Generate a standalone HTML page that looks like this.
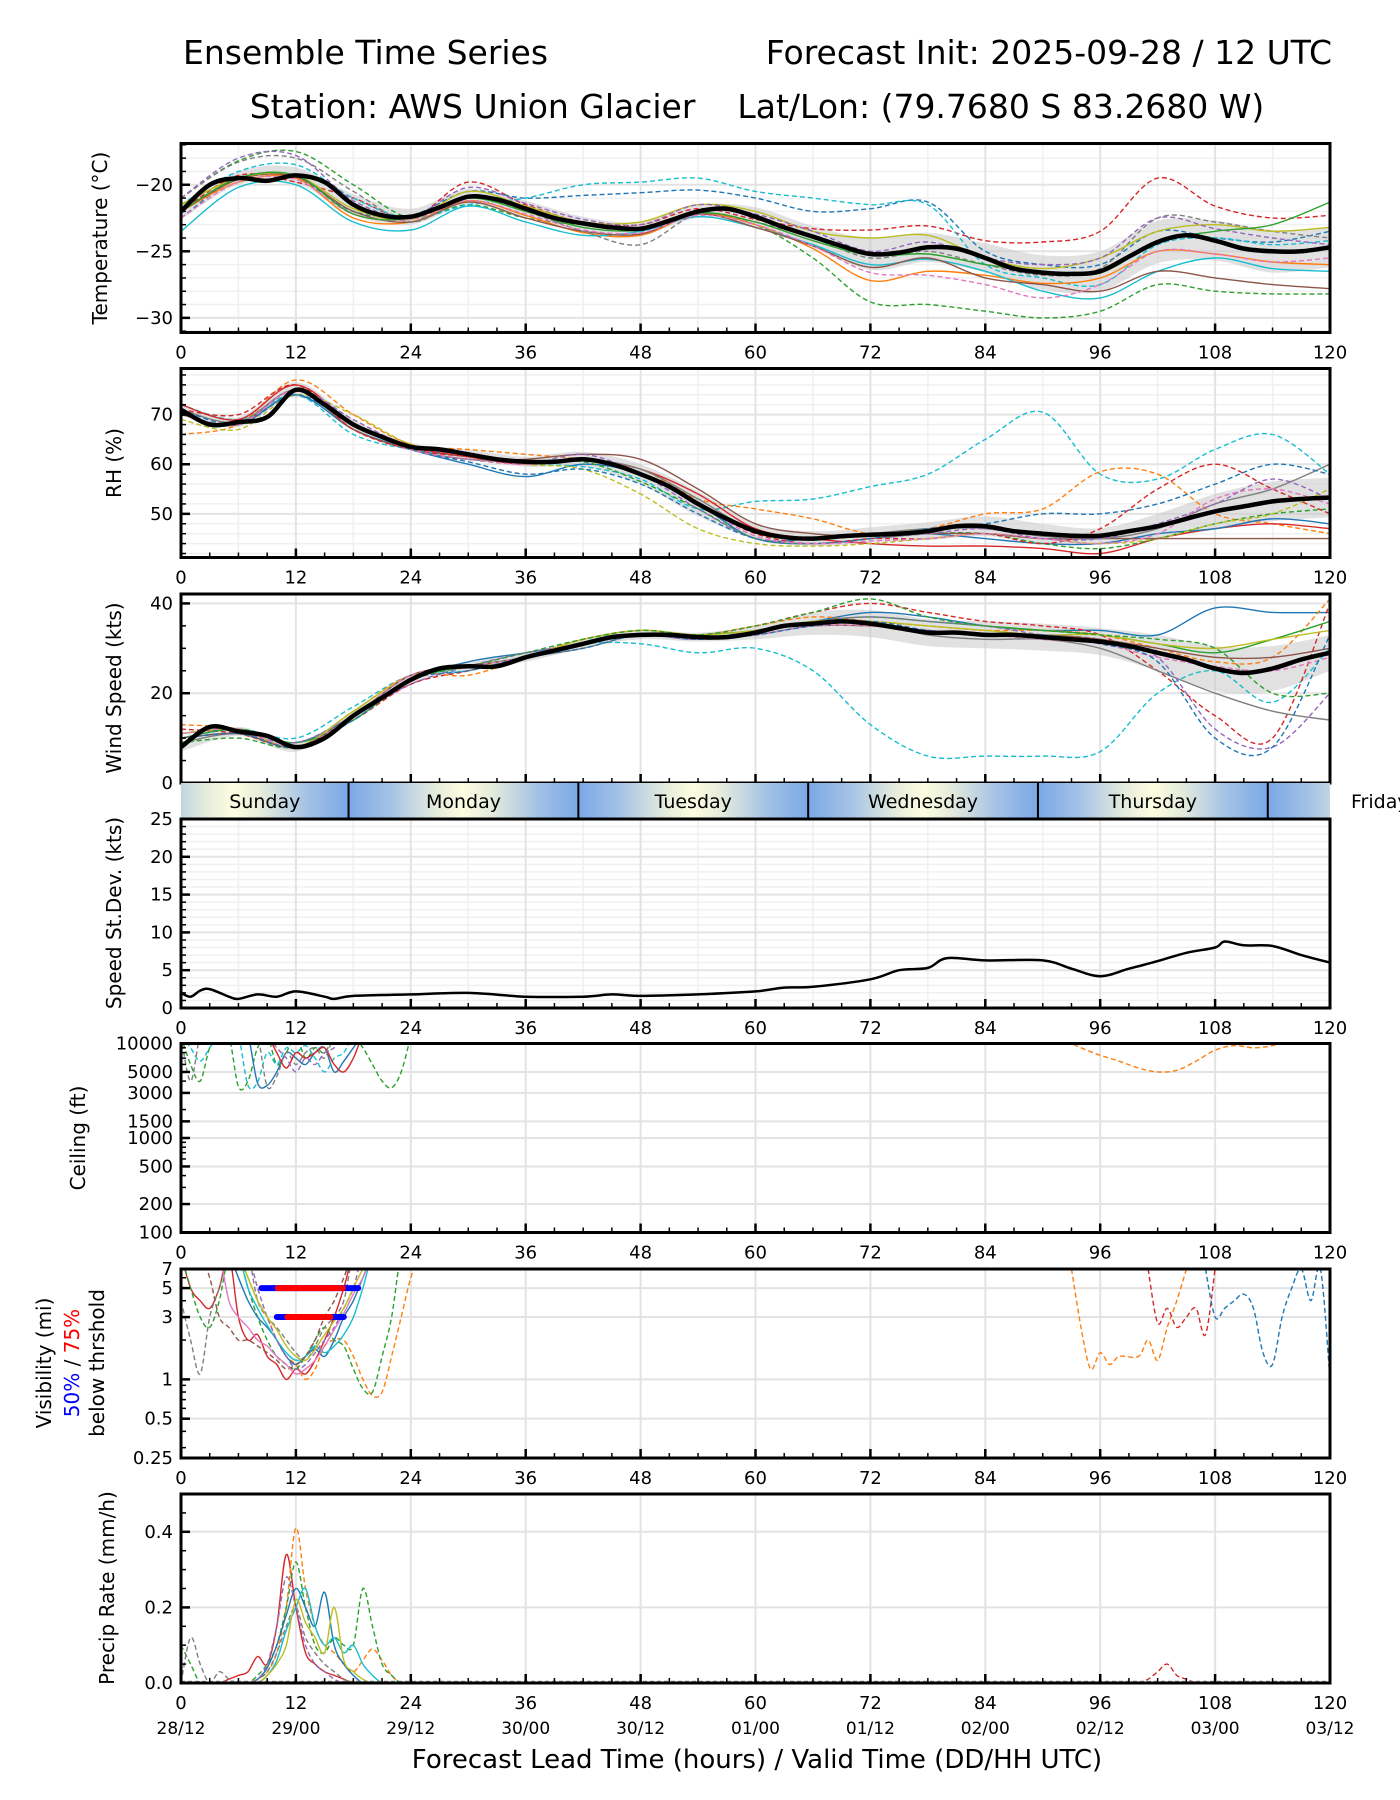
<!DOCTYPE html>
<html><head><meta charset="utf-8"><title>Ensemble Time Series</title>
<style>
html,body{margin:0;padding:0;background:#fff;}
svg{display:block;font-family:"DejaVu Sans","Liberation Sans",sans-serif;}
</style></head>
<body>
<svg id="chart" width="1400" height="1800" viewBox="0 0 1400 1800" xmlns="http://www.w3.org/2000/svg">
<text x="183" y="64" font-size="33">Ensemble Time Series</text>
<text x="1332" y="64" font-size="33" text-anchor="end">Forecast Init: 2025-09-28 / 12 UTC</text>
<text x="757" y="118" font-size="33" text-anchor="middle" xml:space="preserve">Station: AWS Union Glacier    Lat/Lon: (79.7680 S 83.2680 W)</text>
<text x="757" y="1768" font-size="26" text-anchor="middle">Forecast Lead Time (hours) / Valid Time (DD/HH UTC)</text>
</svg>
<script>
// ---------- DATA ----------
const COLORS = ["#1f77b4","#ff7f0e","#2ca02c","#d62728","#9467bd","#8c564b","#e377c2","#7f7f7f","#bcbd22","#17becf"];
const hours6 = [0,6,12,18,24,30,36,42,48,54,60,66,72,78,84,90,96,102,108,114,120];
const hours3 = [0,3,6,9,12,15,18,21,24,27,30,33,36,39,42,45,48,51,54,57,60,63,66,69,72,75,78,81,84,87,90,93,96,99,102,105,108,111,114,117,120];
const xTicks = [0,12,24,36,48,60,72,84,96,108,120];
const validLabels = ["28/12","29/00","29/12","30/00","30/12","01/00","01/12","02/00","02/12","03/00","03/12"];
const dayNames = ["Sunday","Monday","Tuesday","Wednesday","Thursday","Friday"];
const dayStartHour = -6.5;

// Temperature
const tempMean = [-22,-20,-19.5,-19.7,-19.3,-19.8,-21.5,-22.3,-22.4,-21.7,-20.9,-21.1,-21.8,-22.5,-22.9,-23.2,-23.3,-22.7,-22.0,-21.8,-22.4,-23.2,-23.9,-24.6,-25.2,-25.1,-24.7,-24.8,-25.5,-26.3,-26.6,-26.7,-26.5,-25.4,-24.3,-23.8,-24.2,-24.8,-25.0,-25.0,-24.7];
const tempSpread = [0.6,0.5,0.6,0.8,0.6,0.6,0.6,0.5,0.5,0.5,0.7,0.8,1.2,1.1,1.1,1.3,1.5,1.6,1.5,1.6,1.5];
const tempMembers = [
 [-22,-19.3,-19.8,-21,-22.5,-19.8,-21.5,-22.8,-23,-21.8,-22.6,-23.3,-23.4,-23.1,-24.2,-24.3,-23.5,-19.5,-21.6,-22.5,-22.3],
 [-22.5,-19.5,-19.5,-22,-22.3,-20.5,-21,-20.8,-20.6,-20.4,-21,-22,-21.8,-21.3,-25,-26,-26,-23.5,-24,-24.3,-23.5],
 [-21,-18.2,-17.5,-20,-22.5,-21.5,-22.5,-23,-23.2,-22.2,-23,-25.5,-28.8,-29,-29.5,-30,-29.5,-27.5,-28,-28.2,-28.2],
 [-21.5,-19,-18.5,-21,-22.5,-21.5,-21,-20,-19.8,-19.5,-20.5,-21,-21.5,-21.5,-26,-27,-27.5,-24.5,-24,-24.5,-24.2],
 [-22,-19.8,-19.5,-22.5,-22.8,-21.2,-22.3,-23.6,-23.8,-22.2,-23,-24.8,-27.2,-26.5,-26.8,-27.4,-27,-25,-25.2,-25.8,-26],
 [-23.5,-20.2,-20,-22.8,-23.4,-21.6,-22.8,-23.8,-23.5,-22.4,-23.2,-24.5,-26,-25.6,-26.5,-28,-28.5,-26.5,-25.5,-26.3,-26.5],
 [-22,-19.6,-19.4,-22,-22.8,-21.3,-22.5,-23.5,-23.7,-22.2,-23.2,-24.6,-26.2,-25.5,-27,-27.5,-28,-26.5,-27,-27.5,-27.8],
 [-21,-18.3,-18,-20.5,-22.8,-21,-22,-23.5,-24.5,-22.2,-22.8,-24,-25.5,-25,-26,-26.8,-26.3,-22.5,-22.8,-23.5,-24],
 [-21.5,-19.5,-19.3,-21.8,-22.6,-20.5,-21.6,-22.8,-22.8,-21.5,-22,-23.5,-24,-23.8,-25.5,-26.3,-25.5,-23.5,-23,-23.5,-23.2],
 [-21,-18,-17.8,-21.2,-22.4,-20.2,-21.4,-22.6,-23,-21.5,-22.2,-23.5,-25,-24.3,-25.5,-26,-25.5,-22.5,-23.3,-24,-24.5],
 [-22.5,-19.8,-19.6,-22.2,-22.6,-21.2,-22.2,-23.4,-23.6,-22.3,-23,-24.6,-26.6,-26.8,-27.5,-28.5,-27.5,-25,-25.2,-25.8,-25.5],
 [-22,-19.5,-19.3,-22.2,-22.5,-21,-22,-23.2,-23.4,-22.1,-22.8,-24.2,-25.3,-25.2,-26,-26.5,-26.6,-24.3,-23.5,-23,-21.3]
];
const tempColors = [3,0,2,9,1,9,5,7,8,4,6,2];
const tempDashed = [1,1,1,1,0,0,0,1,0,1,1,0];

// RH
const rhMean = [71,68,68.5,69.5,75,72,68,65.5,63.5,63,62,61,60.5,60.5,61,60,58,55.5,52,49,46.5,45.3,45,45.5,45.8,46,46.5,47.5,47.5,46.5,46,45.6,45.6,46.5,47.5,49,50.5,51.5,52.5,53,53.3];
const rhSpread = [1,1,1.5,1,0.8,1,1,1.5,2,2.5,1.5,1.5,1.5,1.8,2,2,1.5,2.5,3.5,4,4];
const rhMembers = [
 [72,69,74,66,63,61.5,60,59.5,57,51,52.5,53,55.5,58,65,70.5,58,57,63,66,58],
 [66,68,77,70,64,63,62,61,59,53,51,49,46,47,50,51,58.5,58,50,48,46],
 [72,69,76,68,63.5,61.5,60,61,59,54,47,45,44,43.5,43.5,43,42,45,47,48,47],
 [70,68,74,67,63,60,57.5,60,58,52,45,45,46,46,45,44,44,46,47,49,48],
 [70,68,75,68,63,61,60,60.5,56.5,51,45,44,45,46,46,44,43,45,48,50,51],
 [69,67,74,70,64,62,60,59,54,47,44,43.5,44,45,46,45,44,45,48,50,55],
 [70,68,75,67,63,61,61,62,61,55,48,46,45.5,46,46,45,45,45,45,45,45],
 [71,68.5,75,68,63,61,60.5,61,59,53,46.5,45,46,47,47,45.5,45,47,52,55,60],
 [70,68,75,69,63.5,62,60,62,58,51,45,44,45,46,47,45,45,48,52,57,53],
 [71,70,76,67,63,61.5,60,61,58,52,46,44,45,45,46,44,47,55,60,55,50],
 [71,68,74,68,63,60.5,58,59,56,50,45,44,45,47,48,50,50,52,56,60,58],
 [70,68,75,68,63,61,60,61,58,52,45.5,44,44.5,45,46,45,44,46,53,55,52]
];
const rhColors = [9,1,3,0,2,8,5,7,4,3,0,6];
const rhDashed = [1,1,0,0,1,1,0,0,1,1,1,1];

// Wind speed
const windMean = [8,12.5,11.5,10.5,8,10,15,19,23,25.5,26,26,28,29.5,31,32.5,33,33,32.5,32.5,33.5,35,35.5,36,35.5,34.5,33.5,33.5,33,33,32.5,32,31.5,30.5,29,27.5,25.5,24.5,25.5,27.5,29];
const windSpread = [1,1,1,1,1,1,1,1,1,1,1.5,2.5,3,3,3,3,3,4,5,5,4];
const windMembers = [
 [10,12,10,17,24,25,28,31,31,29,30,25,13,6,6,6,7,20,25,18,30],
 [11,12,9,15,23,27,29,31,33,32,34,36,38,37,35,34,34,33,39,38,38],
 [12,11,8,14,22,25,28,32,34,33,35,38,40,38,36,35,33,25,15,10,40],
 [9,11,8,15,24,26,28,30,33,32,34,36,36,33,32,32,30,25,20,16,14],
 [13,12,8,16,24,24,28,32,34,33,35,37,36,35,34,34,33,30,27,28,41],
 [10,12,9,14,23,26,28,31,33,33,34,36,37,36,35,34,33,31,29,32,36],
 [10,11,9,15,22,26,29,31,33,32,34,36,37,36,35,33,32,28,12,8,20],
 [11,12,8,16,24,26,28,32,34,33,34,36,36,35,34,33,33,31,30,32,34],
 [9,10,8,15,23,26,29,32,34,33,35,38,41,37,35,34,33,32,30,20,20],
 [10,11,8,15,24,26,28,31,33,32,33,35,35,34,33,33,32,30,28,28,30],
 [11,12,8,15,24,26,28,31,33,32,33,35,35,34,33,32,31,28,26,25,28],
 [10,11,8,14,23,25,28,30,33,32,33,35,36,34,33,33,31,27,10,8,33]
];
const windColors = [9,0,3,7,1,2,4,8,2,5,6,0];
const windDashed = [1,0,1,0,1,0,1,0,1,0,1,1];

// Speed std dev
const sdHours = [0,1,2,3,5,6,8,10,12,15,16,18,24,30,36,42,45,48,54,60,63,66,72,75,78,80,84,90,93,96,99,102,105,108,109,111,114,117,120];
const sdValues = [2,1.5,2.3,2.5,1.5,1.2,1.8,1.5,2.2,1.5,1.2,1.6,1.8,2,1.5,1.5,1.8,1.6,1.8,2.2,2.7,2.8,3.8,5,5.3,6.6,6.3,6.3,5.2,4.2,5.2,6.2,7.3,8,8.8,8.3,8.2,7,6];

// Ceiling (ft), 12000 = above plotted range
const ceilHoursA = [0,1,2,3,4,5,6,7,8,9,10,11,12,13,14,15,16,17,18,19,20,21,22,23,24];
const ceilMembers = [
 [12000,6000,4000,9000,12000,12000,3500,4000,9000,12000,6000,8000,12000,7000,9000,8000,12000,12000,12000,9000,6000,4000,3400,5000,12000],
 [12000,12000,12000,12000,12000,12000,12000,12000,3800,3600,5000,8000,7000,6000,8000,9000,5000,6500,9000,12000,12000,12000,12000,12000,12000],
 [12000,9000,6500,9000,12000,12000,12000,3600,3900,8000,6000,9000,8000,9500,7000,5000,7000,8000,12000,12000,12000,12000,12000,12000,12000],
 [12000,4000,12000,12000,12000,12000,12000,12000,12000,3500,4500,8000,6000,8000,9000,7000,12000,12000,12000,12000,12000,12000,12000,12000,12000],
 [12000,12000,12000,12000,12000,12000,12000,12000,12000,12000,8000,5500,8000,7000,8000,9000,6000,5000,7000,12000,12000,12000,12000,12000,12000],
 [12000,12000,12000,12000,12000,12000,12000,12000,12000,12000,9000,7000,5000,7000,6000,8000,9000,12000,12000,12000,12000,12000,12000,12000,12000]
];
const ceilColors = [2,0,9,7,3,4];
const ceilDashed = [1,0,1,1,0,1];
const ceilHoursB = [90,92,94,96,98,100,102,104,106,108,110,112,114,116,118,120];
const ceilLate = [12000,11000,9000,7500,6500,5500,5000,5200,6500,8500,9500,9000,9500,11000,12000,12000];

// Visibility (mi), 9 = above plotted range
const visHours = [0,1,2,3,4,5,6,7,8,9,10,11,12,13,14,15,16,17,18,19,20,21,22,23,24,25,26];
const visMembers = [
 [9,5,4,3.5,5,9,3,2,2.2,1.5,1.3,1.0,1.2,1.1,1.4,2,3,5,9,9,9,9,9,9,9,9,9],
 [9,9,9,9,9,9,9,6,4,3,2,1.5,1.3,1.0,1.2,1.8,2,2,1.5,1,0.75,0.8,1.5,3,6,9,9],
 [9,5,3,2.5,4,9,9,5,3,2,1.5,1.3,1.2,1.5,2,2.5,2,1.8,1.2,0.85,0.8,1.5,3,9,9,9,9],
 [4,2,1.1,3,5,9,9,9,4,3,2.5,2,1.6,1.4,1.8,2.5,3,4,9,9,9,9,9,9,9,9,9],
 [9,9,9,9,9,9,6,4,3,2.5,2,1.5,1.3,1.5,1.7,1.5,2,3,4,6,9,9,9,9,9,9,9],
 [9,9,9,9,9,9,9,5,3.5,2.6,2,1.6,1.4,1.5,1.8,1.6,1.8,2.2,3,5,9,9,9,9,9,9,9],
 [9,9,9,9,9,9,9,9,5,3,2,1.5,1.2,1.3,1.6,2,2.5,3.5,5,9,9,9,9,9,9,9,9],
 [9,9,9,9,9,9,9,6,4,3,2.4,1.8,1.5,1.4,1.7,2.2,2.8,3.5,5,7,9,9,9,9,9,9,9],
 [9,9,9,6,3,2.5,2,2,1.8,1.6,1.4,1.2,1.3,1.5,2,3,4,6,9,9,9,9,9,9,9,9,9],
 [9,9,9,9,9,4,3,2.5,2,1.8,1.5,1.3,1.1,1.2,1.4,1.8,2.4,3.2,4.5,6,9,9,9,9,9,9,9]
];
const visColors = [3,1,2,7,0,9,4,8,5,6];
const visDashed = [0,1,1,1,0,0,1,0,1,0];
const visLateHours = [93,94,95,96,97,98,100,101,102,103,104,105];
const visLateOrange = [7,2.5,1.2,1.6,1.3,1.5,1.5,2,1.4,2.5,4,7];
const visLateHours2 = [101,102,103,104,105,106,107,108];
const visLateRed = [7,2.7,3.5,2.5,3,3.5,2.2,7];
const visLateHours3 = [107,108,109,110,111,112,113,114,115,116,117,118,119,120];
const visLateBlue = [7,3,3.5,4,4.5,3.5,1.6,1.3,3,5,7,4,7,1];
const visThreshHours = [[8.4,18.5],[10,17]];
const visRedHours = [[10.1,16.9],[11.1,15.6]];
const visThreshValues = [5,3];

// Precip (mm/h)
const precipHours = [0,1,2,3,4,5,6,7,8,9,10,11,12,13,14,15,16,17,18,19,20,21,22,23,24];
const precipMembers = [
 [0,0,0,0,0,0.01,0.02,0.03,0.07,0.05,0.15,0.34,0.2,0.08,0.05,0.03,0.02,0.01,0,0,0,0,0,0,0],
 [0,0,0,0,0,0,0,0,0.01,0.03,0.08,0.2,0.41,0.25,0.15,0.1,0.08,0.05,0.03,0.06,0.09,0.06,0.02,0,0],
 [0.1,0.05,0,0,0,0,0,0,0.02,0.05,0.1,0.2,0.32,0.2,0.1,0.08,0.12,0.1,0.1,0.25,0.15,0.05,0.02,0,0],
 [0,0.12,0.05,0,0.03,0.01,0,0,0.01,0.03,0.08,0.15,0.2,0.12,0.08,0.05,0.03,0.01,0,0,0,0,0,0,0],
 [0,0,0,0,0,0,0,0,0.01,0.04,0.1,0.18,0.25,0.2,0.15,0.24,0.1,0.05,0.02,0,0,0,0,0,0],
 [0,0,0,0,0,0,0,0,0,0.02,0.06,0.14,0.2,0.25,0.15,0.1,0.12,0.08,0.1,0.05,0.02,0,0,0,0],
 [0,0,0,0,0,0,0,0,0.01,0.05,0.15,0.28,0.2,0.1,0.05,0.03,0.01,0,0,0,0,0,0,0,0],
 [0,0,0,0,0,0,0,0,0,0.02,0.05,0.1,0.22,0.16,0.12,0.08,0.2,0.06,0.03,0.01,0,0,0,0,0]
];
const precipColors = [3,1,2,7,0,9,4,8];
const precipDashed = [0,1,1,1,0,0,1,0];
const precipLateHours = [100,101,102,103,104,105,106];
const precipLateRed = [0,0.01,0.03,0.05,0.02,0.01,0];

// ---------- DRAWING ----------
const svg = document.getElementById('chart');
const NS = "http://www.w3.org/2000/svg";
const PL = 181, PR = 1330;
function X(h){ return PL + h*(PR-PL)/120; }
function mk(tag, attrs, parent){
  const e = document.createElementNS(NS, tag);
  for (const k in attrs) e.setAttribute(k, attrs[k]);
  (parent||svg).appendChild(e);
  return e;
}
function smoothPath(pts){
  if (pts.length < 2) return "";
  let d = "M"+pts[0][0].toFixed(1)+","+pts[0][1].toFixed(1);
  for (let i=0;i<pts.length-1;i++){
    const p0=pts[Math.max(0,i-1)], p1=pts[i], p2=pts[i+1], p3=pts[Math.min(pts.length-1,i+2)];
    const c1x=p1[0]+(p2[0]-p0[0])/6, c1y=p1[1]+(p2[1]-p0[1])/6;
    const c2x=p2[0]-(p3[0]-p1[0])/6, c2y=p2[1]-(p3[1]-p1[1])/6;
    d += " C"+c1x.toFixed(1)+","+c1y.toFixed(1)+" "+c2x.toFixed(1)+","+c2y.toFixed(1)+" "+p2[0].toFixed(1)+","+p2[1].toFixed(1);
  }
  return d;
}
let clipId = 0;
function makePanel(cfg){
  const top = cfg.top, bot = cfg.top + 189;
  const Y = cfg.log
    ? v => bot - (Math.log10(v)-Math.log10(cfg.min))/(Math.log10(cfg.max)-Math.log10(cfg.min))*(bot-top)
    : v => bot - (v-cfg.min)/(cfg.max-cfg.min)*(bot-top);
  const g = mk('g', {});
  
  
  const id = 'clip'+(clipId++);
  const cp = mk('clipPath', {id:id}, g);
  mk('rect', {x:PL, y:top, width:PR-PL, height:bot-top}, cp);
  (cfg.minorGrid||[]).forEach(v=>{
    const l = mk('line',{x1:PL,x2:PR,y1:Y(v),y2:Y(v),stroke:'#f0f0f0','stroke-width':1.5},g);
    
    
  });
  if (cfg.minorGrid) for (let h=6; h<120; h+=12){
    const l = mk('line',{x1:X(h),x2:X(h),y1:top,y2:bot,stroke:'#f0f0f0','stroke-width':1.5},g);
    
    
  }
  cfg.ticks.forEach(v=>{
    const l = mk('line',{x1:PL,x2:PR,y1:Y(v),y2:Y(v),stroke:'#e3e3e3','stroke-width':2},g);
    
    
  });
  xTicks.forEach(h=>{
    const l = mk('line',{x1:X(h),x2:X(h),y1:top,y2:bot,stroke:'#e3e3e3','stroke-width':2},g);
    
    
  });
  const plot = mk('g', {'clip-path':'url(#'+id+')'}, g);
  
  
  const fr = mk('rect',{x:PL,y:top,width:PR-PL,height:bot-top,fill:'none',stroke:'#000','stroke-width':3},g);
  
  
  for (let h=0; h<=120; h+=3){
    const major = h%12===0;
    const t = mk('line',{x1:X(h),x2:X(h),y1:bot,y2:bot-(major?9:5),stroke:'#000','stroke-width':major?2.5:1.5},g);
    
    
  }
  if (!cfg.noXLabels) xTicks.forEach(h=>{
    const t = mk('text',{x:X(h),y:bot+26,'font-size':18,'text-anchor':'middle'},g);
    t.textContent = String(h);
    
    
  });
  cfg.ticks.forEach((v,i)=>{
    const t = mk('line',{x1:PL,x2:PL+9,y1:Y(v),y2:Y(v),stroke:'#000','stroke-width':2.5},g);
    
    
    const tl = mk('text',{x:PL-8,y:Y(v)+6,'font-size':18,'text-anchor':'end'},g);
    tl.textContent = cfg.labels[i];
    
    
  });
  (cfg.minorTicks||[]).forEach(v=>{
    const t = mk('line',{x1:PL,x2:PL+5,y1:Y(v),y2:Y(v),stroke:'#000','stroke-width':1.5},g);
    
    
  });
  return {Y:Y, plot:plot, g:g, top:top, bot:bot};
}
function yLabel(text, x, cy, name){
  const t = mk('text',{x:x,y:cy,'font-size':20,'text-anchor':'middle',transform:'rotate(-90 '+x+' '+cy+')'});
  t.textContent = text;
  
  
  return t;
}
function drawLine(parent, hrs, vals, Y, color, dashed, width, name){
  const pts = hrs.map((h,i)=>[X(h), Y(vals[i])]);
  const p = mk('path',{d:smoothPath(pts),fill:'none',stroke:color,'stroke-width':width,'stroke-dasharray':dashed?'5,3':'none','stroke-linejoin':'round'},parent);
  
  
  return p;
}
function drawBand(parent, hrs, mean3, spread, Y, name){
  const up = hrs.map((h,i)=>[X(h), Y(mean3[hours3.indexOf(h)]+spread[i])]);
  const lo = hrs.map((h,i)=>[X(h), Y(mean3[hours3.indexOf(h)]-spread[i])]).reverse();
  const d = smoothPath(up) + " L" + lo[0][0].toFixed(1)+","+lo[0][1].toFixed(1) + smoothPath(lo).replace(/^M[^ ]+/,'') + " Z";
  const p = mk('path',{d:d,fill:'#c8c8c8','fill-opacity':0.55,stroke:'none'},parent);
  
  
}
function lin(a,b,s){const r=[];for(let v=a;v<=b+1e-9;v+=s)r.push(+v.toFixed(4));return r;}

// ---- Temperature ----
const pT = makePanel({name:'temperature', top:143.5, min:-31.1, max:-16.9, ticks:[-20,-25,-30], labels:['\u221220','\u221225','\u221230'], minorTicks:lin(-31,-17,1), minorGrid:lin(-31,-17,1)});
yLabel('Temperature (\u00b0C)', 107, 238, 'temperature-y-axis-title');
drawBand(pT.plot, hours6, tempMean, tempSpread, pT.Y, 'temperature-spread-band');
tempMembers.forEach((m,i)=>drawLine(pT.plot, hours6, m, pT.Y, COLORS[tempColors[i]], tempDashed[i], 1.4, 'temperature-member-'+(i+1)));
drawLine(pT.plot, hours3, tempMean, pT.Y, '#000', false, 4.5, 'temperature-ensemble-mean');

// ---- RH ----
const pR = makePanel({name:'rh', top:368.5, min:41.2, max:79.3, ticks:[50,60,70], labels:['50','60','70'], minorTicks:lin(42,78,2), minorGrid:lin(42,78,2)});
yLabel('RH (%)', 121, 463, 'rh-y-axis-title');
drawBand(pR.plot, hours6, rhMean, rhSpread, pR.Y, 'rh-spread-band');
rhMembers.forEach((m,i)=>drawLine(pR.plot, hours6, m, pR.Y, COLORS[rhColors[i]], rhDashed[i], 1.4, 'rh-member-'+(i+1)));
drawLine(pR.plot, hours3, rhMean, pR.Y, '#000', false, 4.5, 'rh-ensemble-mean');

// ---- Wind ----
const pW = makePanel({name:'wind-speed', top:594, min:0, max:42.1, ticks:[0,20,40], labels:['0','20','40'], minorTicks:lin(0,40,5), noXLabels:true});
yLabel('Wind Speed (kts)', 121, 688, 'wind-y-axis-title');
drawBand(pW.plot, hours6, windMean, windSpread, pW.Y, 'wind-spread-band');
windMembers.forEach((m,i)=>drawLine(pW.plot, hours6, m, pW.Y, COLORS[windColors[i]], windDashed[i], 1.4, 'wind-member-'+(i+1)));
drawLine(pW.plot, hours3, windMean, pW.Y, '#000', false, 4.5, 'wind-ensemble-mean');

// ---- Day bar ----
(function(){
  const top=783, bot=818;
  const defs = mk('defs',{});
  const gr = mk('linearGradient',{id:'dayGrad',x1:'0',x2:'1',y1:'0',y2:'0'},defs);
  [['0','#7aa8e6'],['0.18','#a4c2e6'],['0.38','#e6ecdc'],['0.5','#fdfde0'],['0.62','#e6ecdc'],['0.82','#a4c2e6'],['1','#7aa8e6']].forEach(s=>mk('stop',{offset:s[0],'stop-color':s[1]},gr));
  const cp = mk('clipPath',{id:'dayClip'},defs);
  mk('rect',{x:PL,y:top,width:PR-PL,height:bot-top},cp);
  const g = mk('g',{'clip-path':'url(#dayClip)'});
  
  
  dayNames.forEach((n,i)=>{
    const h0 = dayStartHour + 24*i, h1 = h0+24;
    const r = mk('rect',{x:X(h0),y:top,width:X(h1)-X(h0),height:bot-top,fill:'url(#dayGrad)'},g);
    
    
    if (i>0 && h0<120){
      const l = mk('line',{x1:X(h0),x2:X(h0),y1:top,y2:bot,stroke:'#000','stroke-width':2},g);
      
      
    }
  });
  dayNames.forEach((n,i)=>{
    const h0 = Math.max(0, dayStartHour + 24*i), h1 = Math.min(dayStartHour+24*(i+1), 120);
    let cx = (X(h0)+X(h1))/2;
    let anchor='middle';
    if (i === dayNames.length-1){ cx = 1351; anchor='start'; }
    const t = mk('text',{x:cx,y:808,'font-size':19,'text-anchor':anchor});
    t.textContent = n;
    
    
  });
})();

// ---- Speed St.Dev ----
const pS = makePanel({name:'speed-stdev', top:819, min:0, max:25, ticks:[0,5,10,15,20,25], labels:['0','5','10','15','20','25'], minorTicks:lin(0,25,1), minorGrid:lin(1,24,1)});
yLabel('Speed St.Dev. (kts)', 121, 913, 'stdev-y-axis-title');
(function(){
  const pts = sdHours.map((h,i)=>[X(h), pS.Y(sdValues[i])]);
  const p = mk('path',{d:smoothPath(pts),fill:'none',stroke:'#000','stroke-width':2.5,'stroke-linejoin':'round'},pS.plot);
  
  
})();

// ---- Ceiling ----
const ceilMinor = [200,300,400,600,700,800,900,2000,3000,4000,6000,7000,8000,9000];
const pC = makePanel({name:'ceiling', top:1043.5, min:100, max:10000, log:true, ticks:[10000,5000,3000,1500,1000,500,200,100], labels:['10000','5000','3000','1500','1000','500','200','100'], minorTicks:ceilMinor});
yLabel('Ceiling (ft)', 85, 1138, 'ceiling-y-axis-title');
ceilMembers.forEach((m,i)=>drawLine(pC.plot, ceilHoursA, m, pC.Y, COLORS[ceilColors[i]], ceilDashed[i], 1.4, 'ceiling-member-'+(i+1)));
drawLine(pC.plot, ceilHoursB, ceilLate, pC.Y, COLORS[1], true, 1.4, 'ceiling-member-late');

// ---- Visibility ----
const pV = makePanel({name:'visibility', top:1269, min:0.25, max:7, log:true, ticks:[7,5,3,1,0.5,0.25], labels:['7','5','3','1','0.5','0.25'], minorTicks:[0.3,0.4,0.6,0.7,0.8,0.9,2,4,6]});
(function(){
  const t1 = mk('text',{x:51,y:1363,'font-size':20,'text-anchor':'middle',transform:'rotate(-90 51 1363)'});
  t1.textContent = 'Visibility (mi)';
  
  
  const t2 = mk('text',{x:79,y:1363,'font-size':20,'text-anchor':'middle',transform:'rotate(-90 79 1363)'});
  
  
  const a = mk('tspan',{fill:'#0000ff'},t2); a.textContent='50%';
  const b = mk('tspan',{fill:'#000'},t2); b.textContent=' / ';
  const c = mk('tspan',{fill:'#ff0000'},t2); c.textContent='75%';
  const t3 = mk('text',{x:104,y:1363,'font-size':20,'text-anchor':'middle',transform:'rotate(-90 104 1363)'});
  t3.textContent = 'below thrshold';
  
  
})();
visMembers.forEach((m,i)=>drawLine(pV.plot, visHours, m, pV.Y, COLORS[visColors[i]], visDashed[i], 1.4, 'visibility-member-'+(i+1)));
drawLine(pV.plot, visLateHours, visLateOrange, pV.Y, COLORS[1], true, 1.4, 'visibility-member-late-1');
drawLine(pV.plot, visLateHours2, visLateRed, pV.Y, COLORS[3], true, 1.4, 'visibility-member-late-2');
drawLine(pV.plot, visLateHours3, visLateBlue, pV.Y, COLORS[0], true, 1.4, 'visibility-member-late-3');
visThreshValues.forEach((v,i)=>{
  const b = mk('line',{x1:X(visThreshHours[i][0]),x2:X(visThreshHours[i][1]),y1:pV.Y(v),y2:pV.Y(v),stroke:'#0000ff','stroke-width':6,'stroke-linecap':'round'});
  
  
  const r = mk('line',{x1:X(visRedHours[i][0]),x2:X(visRedHours[i][1]),y1:pV.Y(v),y2:pV.Y(v),stroke:'#ff0000','stroke-width':6,'stroke-linecap':'round'});
  
  
});

// ---- Precip ----
const pP = makePanel({name:'precip', top:1494, min:0, max:0.5, ticks:[0,0.2,0.4], labels:['0.0','0.2','0.4'], minorTicks:lin(0,0.5,0.05)});
yLabel('Precip Rate (mm/h)', 114, 1588, 'precip-y-axis-title');
precipMembers.forEach((m,i)=>drawLine(pP.plot, precipHours, m, pP.Y, COLORS[precipColors[i]], precipDashed[i], 1.4, 'precip-member-'+(i+1)));
drawLine(pP.plot, precipLateHours, precipLateRed, pP.Y, COLORS[3], true, 1.4, 'precip-member-late');
(function(){
  const l = mk('line',{x1:PL,x2:PR,y1:pP.Y(0)-1.5,y2:pP.Y(0)-1.5,stroke:'#888','stroke-width':1.5,'stroke-dasharray':'4,3'},pP.plot);
  
  
})();
xTicks.forEach((h,i)=>{
  const t = mk('text',{x:X(h),y:1734,'font-size':17,'text-anchor':'middle'});
  t.textContent = validLabels[i];
  
  
});
</script>
</body></html>
